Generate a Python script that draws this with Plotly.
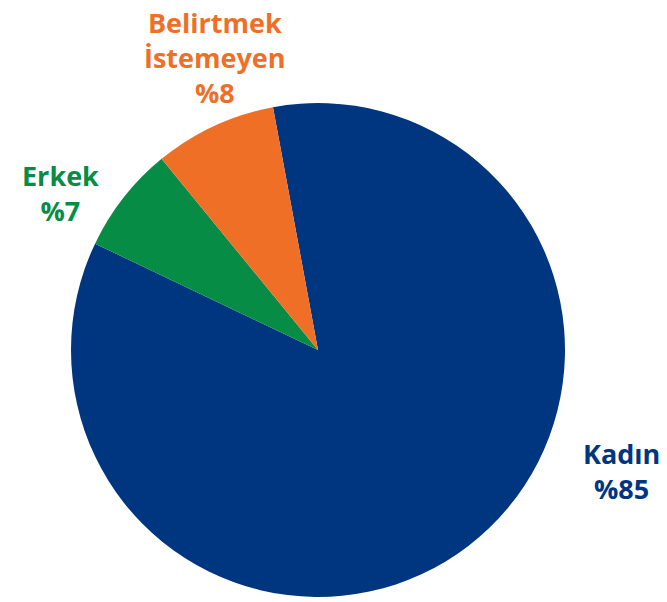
import plotly.graph_objects as go

categories = ["Kadın", "Erkek", "Belirtmek<br>İstemeyen"]
values = [85, 7, 8]
colors = ["#00357F", "#078C45", "#EF6F27"]
label_pos = [(621, 471), (60, 193), (215, 58)]  # label centers in page pixels (x, y from top)

W, H = 667, 602
cx, cy, r = 318, 350, 247

fig = go.Figure(go.Pie(
    labels=categories, values=values, sort=False, direction="clockwise",
    rotation=-10.5, marker=dict(colors=colors, line=dict(width=0)),
    textinfo="none", hoverinfo="label+percent",
    domain=dict(x=[(cx - r) / W, (cx + r) / W], y=[(H - cy - r) / H, (H - cy + r) / H]),
))

for cat, val, col, (px, py) in zip(categories, values, colors, label_pos):
    fig.add_annotation(
        x=px / W, y=1 - py / H, xref="paper", yref="paper",
        text=f"{cat}<br>%{val}", showarrow=False, align="center",
        xanchor="center", yanchor="middle",
        font=dict(family="Open Sans", size=27, color=col, weight="bold"),
    )

fig.update_layout(
    width=W, height=H, margin=dict(l=0, r=0, t=0, b=0),
    showlegend=False, paper_bgcolor="white", plot_bgcolor="white",
)
fig.write_html("out.html", config={"displayModeBar": False},
               post_script="document.body.style.margin='0';")
